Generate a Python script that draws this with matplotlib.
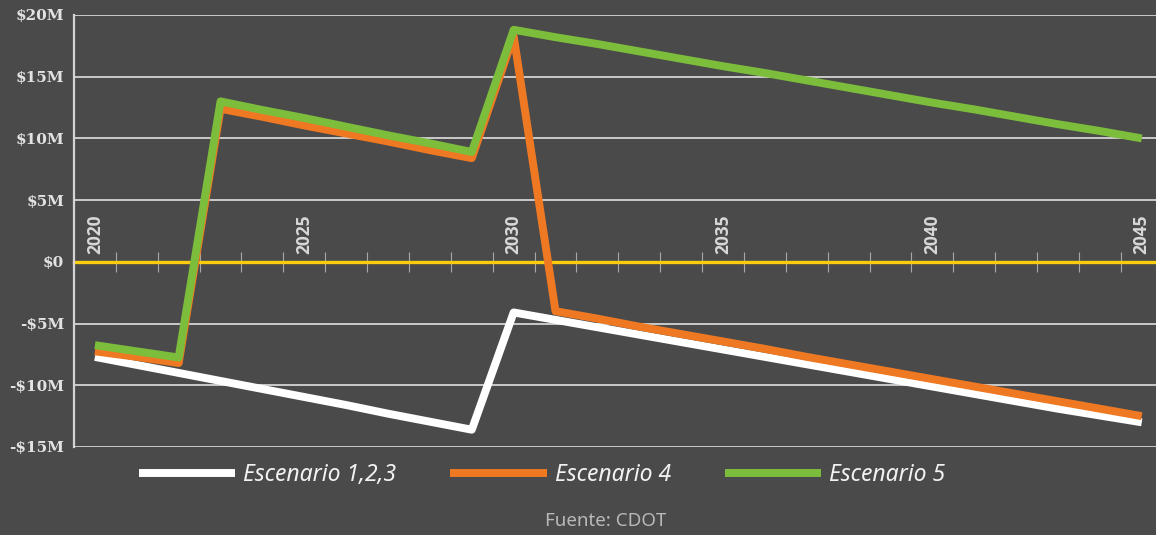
import matplotlib
matplotlib.use("Agg")
import matplotlib.pyplot as plt
from matplotlib.lines import Line2D

# Annual balance (millions of dollars) under each scenario
years = list(range(2020, 2046))

escenario_123 = [-7.7, -8.35, -9.0, -9.65, -10.3, -10.95, -11.6, -12.3, -12.95, -13.6,
                 -4.1, -4.7, -5.3, -5.9, -6.5, -7.1, -7.7, -8.3, -8.9, -9.5,
                 -10.1, -10.7, -11.3, -11.9, -12.45, -13.0]

escenario_4 = [-7.25, -7.7, -8.2, 12.4, 11.75, 11.05, 10.4, 9.75, 9.05, 8.4,
               18.3, -4.0, -4.6, -5.25, -5.85, -6.45, -7.05, -7.7, -8.3, -8.9,
               -9.5, -10.1, -10.7, -11.3, -11.9, -12.5]

escenario_5 = [-6.75, -7.25, -7.75, 13.0, 12.3, 11.65, 10.95, 10.25, 9.6, 8.9,
               18.8, 18.2, 17.65, 17.05, 16.45, 15.85, 15.3, 14.7, 14.1, 13.5,
               12.9, 12.35, 11.75, 11.15, 10.6, 10.0]

series_labels = ["Escenario 1,2,3", "Escenario 4", "Escenario 5"]
series_colors = ["#ffffff", "#ef7922", "#7cbd3c"]

y_ticks = [-15, -10, -5, 0, 5, 10, 15, 20]
y_tick_labels = ["-$15M", "-$10M", "-$5M", "$0", "$5M", "$10M", "$15M", "$20M"]
labelled_years = [2020, 2025, 2030, 2035, 2040, 2045]

bg = "#4a4a4a"
grid_color = "#d4d4d4"
zero_color = "#fbcd0c"

fig = plt.figure(figsize=(11.56, 5.35), dpi=100, facecolor=bg)
ax = fig.add_axes([0.064, 0.1645, 0.936, 0.8075], facecolor=bg)

# horizontal gridlines (zero line is drawn by the yellow spine)
for v in y_ticks:
    if v != 0:
        ax.axhline(v, color=grid_color, lw=1.3, zorder=1)

for vals, col, lab in zip([escenario_123, escenario_4, escenario_5], series_colors, series_labels):
    ax.plot(years, vals, color=col, lw=5.7, label=lab, zorder=3,
            solid_joinstyle="round", solid_capstyle="butt")

ax.set_xlim(2019.5, 2045.34)
ax.set_ylim(-15, 20)

# spines
for s in ["top", "right"]:
    ax.spines[s].set_visible(False)
ax.spines["left"].set_color(grid_color)
ax.spines["left"].set_linewidth(1.6)
ax.spines["bottom"].set_position(("data", 0))
ax.spines["bottom"].set_color(zero_color)
ax.spines["bottom"].set_linewidth(2.4)
ax.spines["bottom"].set_zorder(2)

# y axis
ax.set_yticks(y_ticks)
ax.set_yticklabels(y_tick_labels, family="DejaVu Serif", fontweight="bold",
                   fontsize=11, color="#e2e2e2")
ax.tick_params(axis="y", length=0, pad=7)

# x axis: tick marks between categories, year labels above the zero line
ax.set_xticks([y + 0.5 for y in years[:-1]])
ax.set_xticklabels([])
ax.tick_params(axis="x", direction="inout", length=14.4, width=0.8, color="#a8a8a8")

for yr in labelled_years:
    ax.annotate(str(yr), xy=(yr, 0), xytext=(0, 5.5), textcoords="offset points",
                rotation=90, ha="center", va="bottom", fontsize=12.5,
                family="Open Sans", fontweight="bold", color="#d8d8d8",
                annotation_clip=False)

handles = [Line2D([0], [0], color=c, lw=5.7, solid_capstyle="butt") for c in series_colors]
leg = fig.legend(handles, series_labels, loc="center", bbox_to_anchor=(0.469, 0.112),
                 ncol=3, frameon=False, handlelength=4.2, handletextpad=0.35,
                 columnspacing=2.35,
                 prop={"family": "Noto Sans", "style": "italic", "size": 16.5})
for t in leg.get_texts():
    t.set_color("#f2f2f2")

fig.text(0.524, 0.026, "Fuente: CDOT", ha="center", va="center",
         family="Noto Sans", fontsize=13.5, color="#b8b8b8")

fig.savefig("out.png", dpi=100, facecolor=bg)
